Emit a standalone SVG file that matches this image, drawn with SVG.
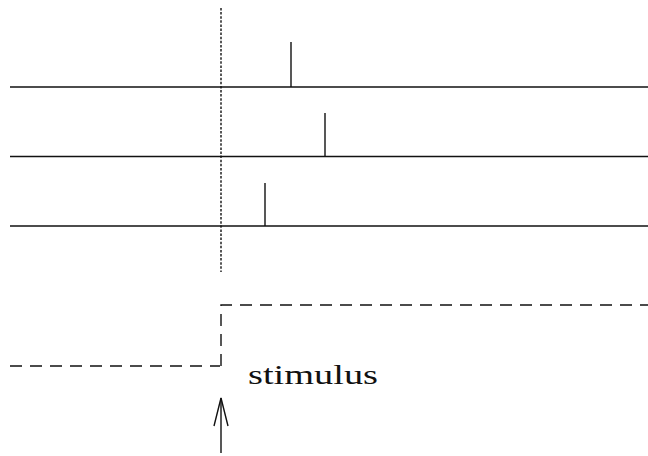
<svg xmlns="http://www.w3.org/2000/svg" width="648" height="456" viewBox="0 0 648 456">
<style>
.solid{stroke:#111;stroke-width:1.4;fill:none}
.dot{stroke:#111;stroke-width:1.4;fill:none;stroke-dasharray:2.5 1.6}
.dash{stroke:#111;stroke-width:1.4;fill:none;stroke-dasharray:12 8}
.lbl{font-family:"Liberation Serif",serif;font-size:28px;fill:#111}
</style>
<rect width="648" height="456" fill="#fff"/>
<g id="trains">
<line class="solid" x1="10" y1="87" x2="648" y2="87"/>
<line class="solid" x1="291" y1="42" x2="291" y2="87"/>
<line class="solid" x1="10" y1="156.5" x2="648" y2="156.5"/>
<line class="solid" x1="325" y1="113" x2="325" y2="156.5"/>
<line class="solid" x1="10" y1="226" x2="648" y2="226"/>
<line class="solid" x1="265" y1="183" x2="265" y2="226"/>
</g>
<g id="onset">
<line class="dot" x1="221" y1="8" x2="221" y2="272"/>
</g>
<g id="stimulus-step">
<polyline class="dash" points="10,366 220,366"/>
<polyline class="dash" points="221,366 221,305 648,305"/>
</g>
<g id="label">
<text class="lbl" x="248" y="384" textLength="130" lengthAdjust="spacingAndGlyphs">stimulus</text>
</g>
<g id="connectors">
<line class="solid" x1="221" y1="398" x2="221" y2="453"/>
<polyline class="solid" points="214,426 221,398 228,426"/>
</g>
</svg>
